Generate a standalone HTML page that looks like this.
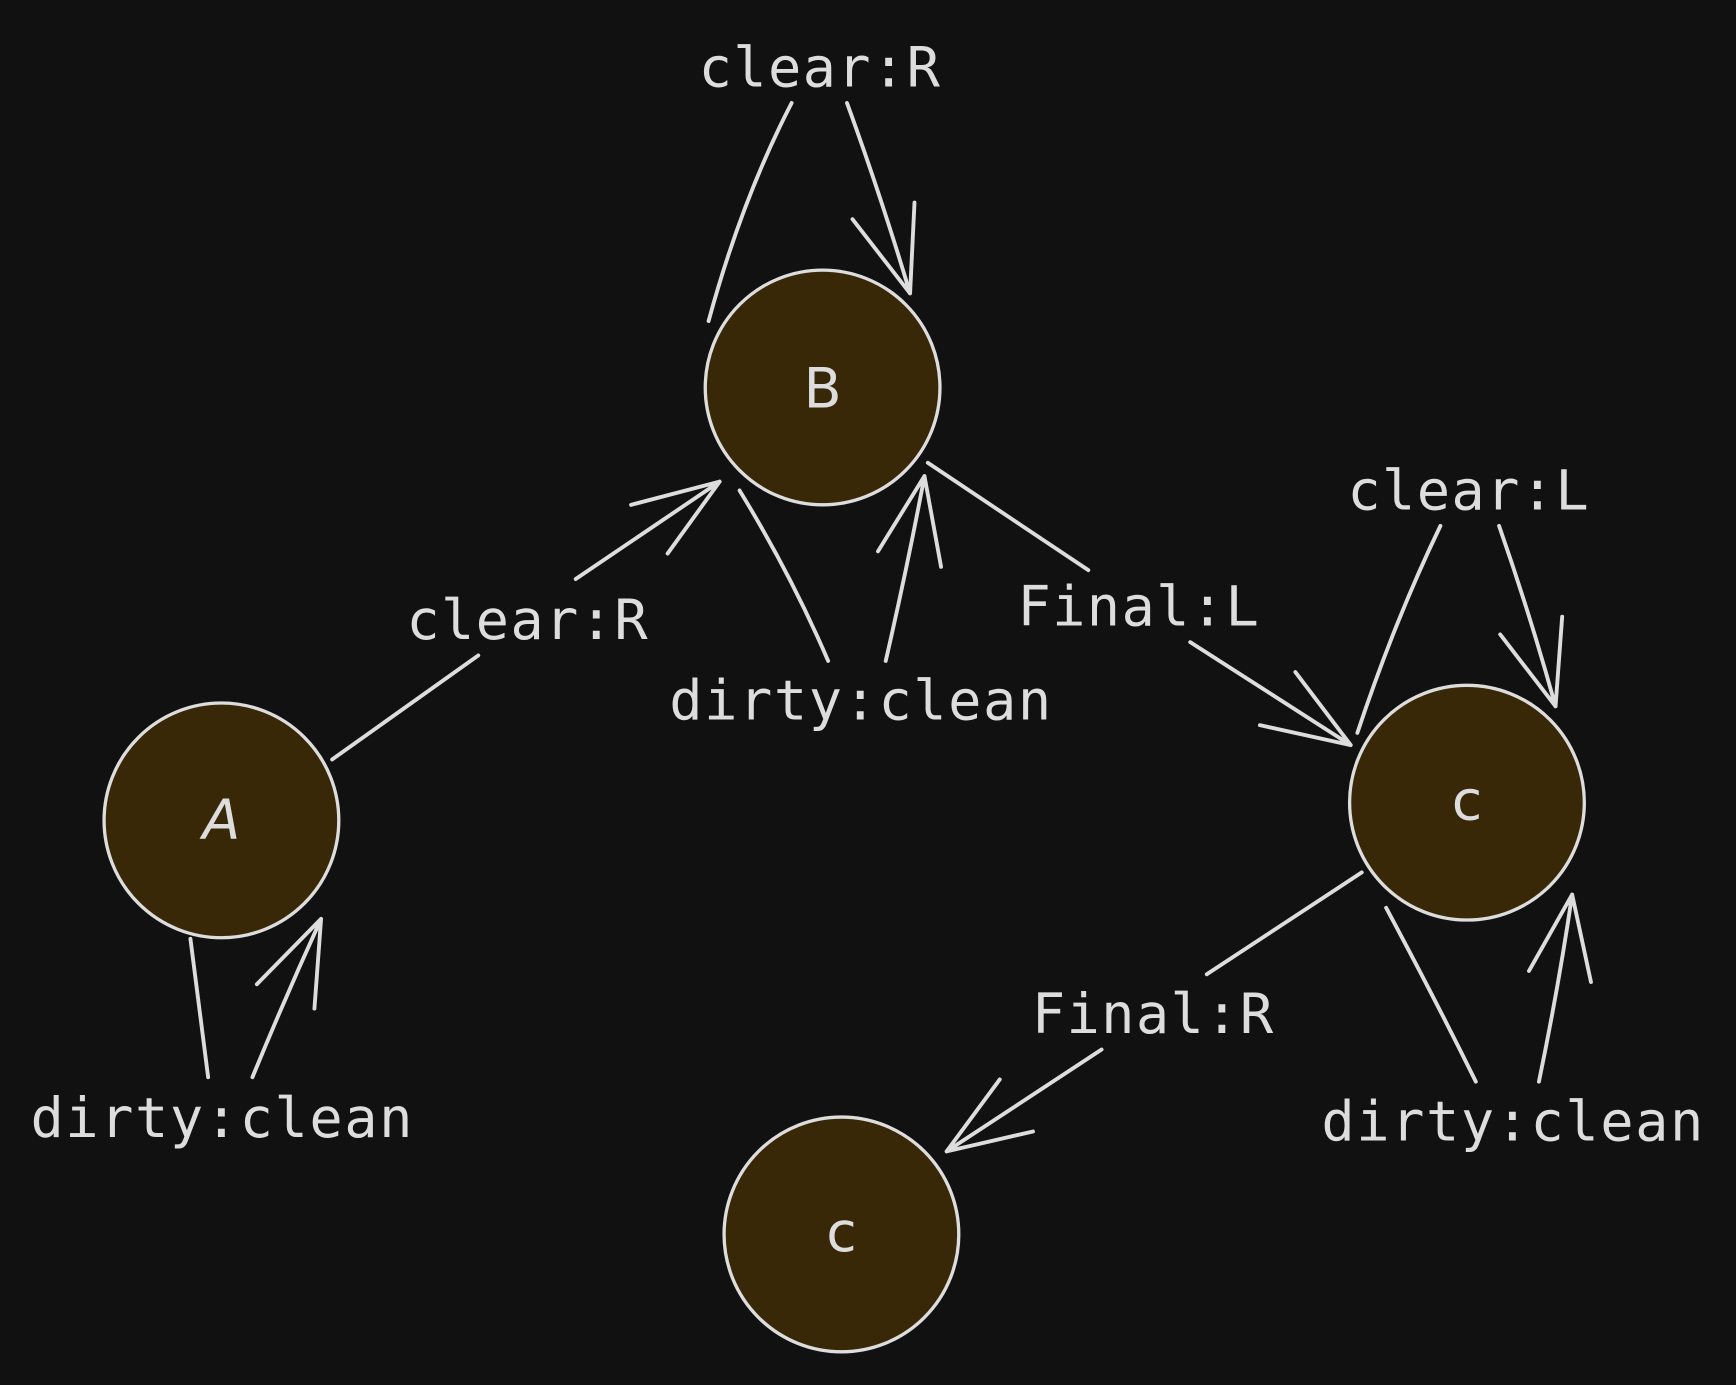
<!DOCTYPE html>
<html><head><style>
html,body{margin:0;padding:0;background:#111111;}
svg{display:block;}
text{font-family:"DejaVu Sans Mono","Liberation Mono",monospace;fill:#dddddd;}
</style></head><body>
<svg width="1736" height="1385" viewBox="0 0 1568 1251" preserveAspectRatio="none" xmlns="http://www.w3.org/2000/svg">
<rect width="1568" height="1251" fill="#111111"/>
<g fill="#382807" stroke="#dddddd" stroke-width="3">
<circle cx="743" cy="350" r="106"/>
<circle cx="200" cy="741" r="106"/>
<circle cx="1325" cy="725" r="106"/>
<circle cx="760" cy="1115" r="106"/>
</g>
<g font-size="50" text-anchor="middle">
<text x="743" y="368" style="font-family:'DejaVu Sans',sans-serif">B</text>
<text x="200" y="758" font-style="italic" style="font-family:'DejaVu Sans',sans-serif">A</text>
<text x="1325" y="740" style="font-family:'DejaVu Sans',sans-serif">c</text>
<text x="760" y="1130" style="font-family:'DejaVu Sans',sans-serif">c</text>
</g>
<g stroke="#dddddd" stroke-width="3.5" fill="none" stroke-linecap="round">
<path d="M640 290 Q670 180 715 93"/>
<path d="M765 93 Q795 175 822 265 M770 198 L822 265 M826 183 L822 265"/>
<path d="M300 686 L432 592 M520 523 L650 435 M570 456 L650 435 M603 500 L650 435"/>
<path d="M668 443 Q715 520 748 597 M800 597 Q820 510 835 430 M793 498 L835 430 M850 512 L835 430"/>
<path d="M838 418 L983 515 M1075 580 L1220 673 M1138 655 L1220 673 M1170 607 L1220 673"/>
<path d="M1226 662 Q1260 560 1301 475 M1354 475 Q1382 555 1405 638 M1355 573 L1405 638 M1411 557 L1405 638"/>
<path d="M1252 820 Q1295 900 1333 977 M1390 977 Q1408 890 1420 808 M1381 877 L1420 808 M1437 887 L1420 808"/>
<path d="M1230 788 L1090 880 M995 948 L855 1040 M933 1022 L855 1040 M903 975 L855 1040"/>
<path d="M172 848 L188 973 M228 973 Q258 900 290 830 M232 889 L290 830 M284 911 L290 830"/>
</g>
<g font-size="50" text-anchor="middle">
<text x="740" y="78" textLength="218">clear:R</text>
<text x="476" y="577" textLength="218">clear:R</text>
<text x="777" y="650" textLength="345">dirty:clean</text>
<text x="1028" y="565" textLength="218">Final:L</text>
<text x="1326" y="460" textLength="218">clear:L</text>
<text x="200" y="1027" textLength="345">dirty:clean</text>
<text x="1366" y="1030" textLength="345">dirty:clean</text>
<text x="1041" y="933" textLength="218">Final:R</text>
</g>
</svg>
</body></html>
